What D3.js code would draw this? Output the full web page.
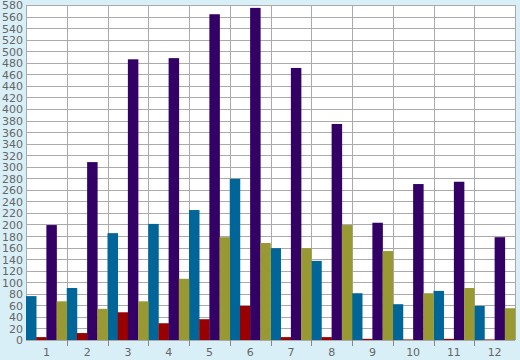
<!DOCTYPE html>
<html><head><meta charset="utf-8">
<script src="https://cdn.jsdelivr.net/npm/d3@7"></script>
<style>html,body{margin:0;padding:0;background:#d9eff7;}svg{display:block;}</style>
</head><body><svg id="c" width="520" height="360"></svg>
<script>
const categories = ["1","2","3","4","5","6","7","8","9","10","11","12"];
const seriesNames = ["A","B","C","D"];
const seriesColors = ["#006699","#990000","#330066","#999933"];
const seriesA = [76, 90, 185, 201, 225, 279, 159, 137, 81, 62, 85, 59];
const seriesB = [5, 12, 48, 29, 36, 59, 5, 5, 2, 1, 2, 1];
const seriesC = [199, 308, 486, 488, 564, 575, 471, 374, 203, 270, 274, 178];
const seriesD = [67, 54, 67, 106, 178, 168, 159, 199, 154, 81, 90, 55];
const yTicks = d3.range(0, 581, 20);

const series = [seriesA, seriesB, seriesC, seriesD];
const svg = d3.select("#c");
const pL = 26, pR = 515, pT = 5, pB = 340;
const x = d3.scaleBand().domain(categories).range([pL, pR]).padding(0);
const xs = d3.scaleBand().domain(seriesNames).range([0, x.bandwidth()]).padding(0);
const y = d3.scaleLinear().domain([0, 580]).range([pB, pT]);

svg.append("rect").attr("x", pL).attr("y", pT).attr("width", pR-pL).attr("height", pB-pT).attr("fill", "#fff");

const grid = svg.append("g").attr("stroke", "#aaaaaa").attr("stroke-width", 1).attr("shape-rendering","crispEdges");
yTicks.forEach(t => grid.append("line").attr("x1", pL).attr("x2", pR).attr("y1", Math.round(y(t))+0.5).attr("y2", Math.round(y(t))+0.5));
const bounds = categories.map(c => x(c)).concat([pR]);
bounds.forEach(b => grid.append("line").attr("x1", Math.round(b)+0.5).attr("x2", Math.round(b)+0.5).attr("y1", pT).attr("y2", pB));
bounds.slice(1, -1).forEach(b => grid.append("line").attr("x1", Math.round(b)+0.5).attr("x2", Math.round(b)+0.5).attr("y1", pB).attr("y2", pB+6).attr("stroke","#888"));

series.forEach((vals, si) => {
  svg.append("g").selectAll("rect").data(vals).join("rect")
    .attr("x", (d, i) => x(categories[i]) + xs(seriesNames[si]))
    .attr("width", xs.bandwidth() + 0.3)
    .attr("y", d => y(d))
    .attr("height", d => pB - y(d))
    .attr("fill", seriesColors[si]);
});

const yAxis = d3.axisLeft(y).tickValues(yTicks).tickSize(0).tickPadding(3);
const ga = svg.append("g").attr("transform", `translate(${pL},0)`).call(yAxis);
ga.select(".domain").remove();
ga.selectAll("text").attr("fill", "#666").attr("font-family", "DejaVu Sans").attr("font-size", 11).attr("dy","0.36em");

const xAxis = d3.axisBottom(x).tickSize(0).tickPadding(8);
const gx = svg.append("g").attr("transform", `translate(0,${pB})`).call(xAxis);
gx.select(".domain").remove();
gx.selectAll("text").attr("fill", "#666").attr("font-family", "DejaVu Sans").attr("font-size", 11);
</script></body></html>
